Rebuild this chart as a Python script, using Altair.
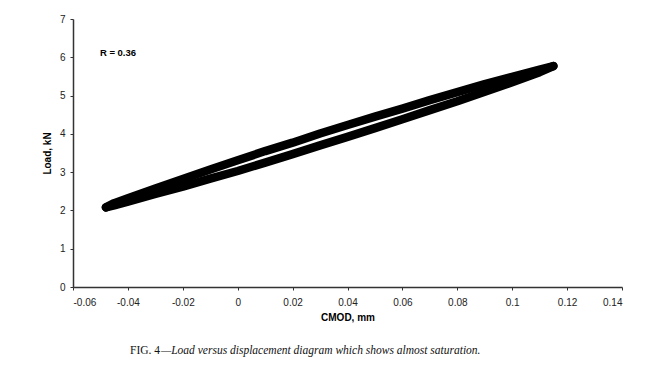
import altair as alt
import pandas as pd

# CMOD values (mm) along the hysteresis loop
cmod = [-0.048, -0.045, -0.04, -0.03, -0.02, -0.01, 0.0, 0.01, 0.02, 0.03,
        0.04, 0.05, 0.06, 0.07, 0.08, 0.09, 0.10, 0.11, 0.115]
# Load (kN) on the upper branch of the loop
load_upper = [2.08, 2.19, 2.32, 2.57, 2.82, 3.07, 3.31, 3.55, 3.77, 4.01,
              4.23, 4.45, 4.66, 4.88, 5.09, 5.30, 5.49, 5.68, 5.77]
# Load (kN) on the lower branch of the loop
load_lower = [2.08, 2.13, 2.23, 2.43, 2.62, 2.83, 3.03, 3.25, 3.47, 3.70,
              3.92, 4.15, 4.38, 4.62, 4.85, 5.10, 5.35, 5.61, 5.77]

x_ticks = [-0.06, -0.04, -0.02, 0, 0.02, 0.04, 0.06, 0.08, 0.1, 0.12, 0.14]
y_ticks = [0, 1, 2, 3, 4, 5, 6, 7]

annot_text = ["R = 0.36"]
annot_x = [-0.0502]
annot_y = [6.11]

caption_a = "FIG. 4"
caption_b = "\u2014Load versus displacement diagram which shows almost saturation."

rows = []
for i, (x, y) in enumerate(zip(cmod, load_upper)):
    rows.append({"cmod": x, "load": y, "branch": "upper", "ord": i})
for i, (x, y) in enumerate(zip(cmod, load_lower)):
    rows.append({"cmod": x, "load": y, "branch": "lower", "ord": i})
df = pd.DataFrame(rows)

xscale = alt.Scale(domain=[-0.06, 0.14], nice=False, zero=False)
yscale = alt.Scale(domain=[0, 7], nice=False)

axis_common = dict(
    grid=False, domainColor="#333333", domainWidth=1.5, tickColor="#333333",
    tickSize=3, tickWidth=1, labelFont="Liberation Sans", labelFontSize=10,
    labelColor="#222222", titleFont="Liberation Sans", titleFontSize=10,
    titleFontWeight="bold", titleColor="#000000", labelOverlap=False,
)
xaxis = alt.Axis(values=x_ticks, labelExpr="'' + datum.value",
                 labelPadding=7, titlePadding=5, **axis_common)
yaxis = alt.Axis(values=y_ticks, format="d", labelPadding=5,
                 titlePadding=7, **axis_common)

loop = alt.Chart(df).mark_line(color="black", strokeWidth=8.5, strokeCap="round",
                               strokeJoin="round").encode(
    x=alt.X("cmod:Q", scale=xscale, title="CMOD, mm", axis=xaxis),
    y=alt.Y("load:Q", scale=yscale, title="Load, kN", axis=yaxis),
    detail="branch:N",
    order="ord:Q",
)

annot = alt.Chart(pd.DataFrame({"t": annot_text, "x": annot_x, "y": annot_y})).mark_text(
    align="left", baseline="middle", font="Liberation Sans", fontSize=9.5,
    fontWeight="bold", color="black"
).encode(x=alt.X("x:Q", scale=xscale, title="CMOD, mm", axis=xaxis),
         y=alt.Y("y:Q", scale=yscale, title="Load, kN", axis=yaxis), text="t:N")

cap1 = alt.Chart(pd.DataFrame({"t": [caption_a]})).mark_text(
    align="left", baseline="middle", font="Liberation Serif", fontSize=11.5,
    color="#111111"
).encode(x=alt.value(57), y=alt.value(332), text="t:N")

cap2 = alt.Chart(pd.DataFrame({"t": [caption_b]})).mark_text(
    align="left", baseline="middle", font="Liberation Serif", fontSize=11.5,
    fontStyle="italic", color="#111111"
).encode(x=alt.value(88), y=alt.value(332), text="t:N")

chart = alt.layer(loop, annot, cap1, cap2).properties(
    width=549, height=268,
    background="white",
    autosize=alt.AutoSizeParams(type="none"),
    padding={"left": 65, "top": 11, "right": 20, "bottom": 80},
).configure_view(stroke=None)

chart.save("out.html", embed_options={"renderer": "svg", "actions": False})
